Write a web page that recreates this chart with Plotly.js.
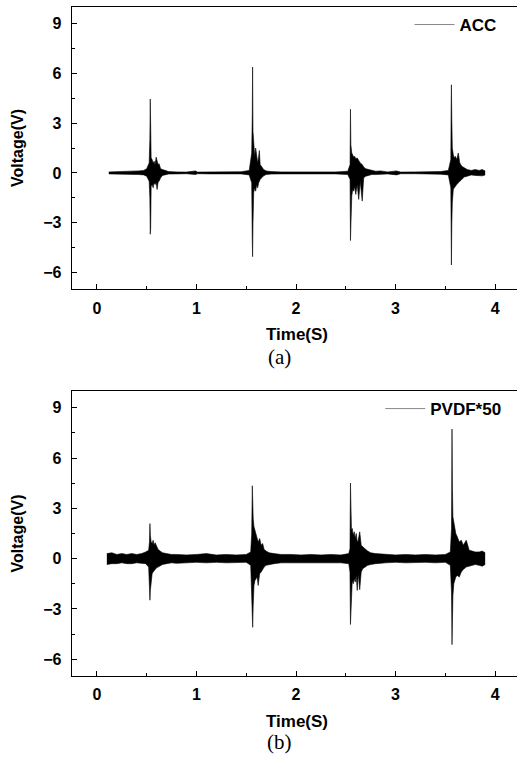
<!DOCTYPE html>
<html>
<head>
<meta charset="utf-8">
<script src="https://cdn.plot.ly/plotly-3.0.1.min.js"></script>
<style>
html,body{margin:0;padding:0;background:#fff;overflow:hidden;}
#chart{width:522px;height:759px;}
</style>
</head>
<body>
<div id="chart"></div>
<script>
// ---- ACC signal envelope (panel a) ----
var accTime = [0.12,0.20,0.28,0.35,0.42,0.47,0.50,0.525,0.532,0.536,0.540,0.545,0.555,0.565,0.575,0.585,0.595,0.605,0.615,0.625,0.64,0.66,0.69,0.72,0.80,0.90,0.99,1.01,1.15,1.30,1.45,1.53,1.555,1.561,1.564,1.568,1.575,1.585,1.595,1.605,1.615,1.625,1.632,1.64,1.655,1.675,1.70,1.75,1.85,1.98,2.10,2.25,2.40,2.52,2.543,2.547,2.551,2.56,2.57,2.58,2.59,2.60,2.615,2.63,2.645,2.665,2.68,2.70,2.73,2.76,2.80,2.85,2.92,3.01,3.05,3.20,3.35,3.45,3.53,3.555,3.558,3.561,3.565,3.57,3.58,3.59,3.60,3.615,3.63,3.645,3.665,3.69,3.72,3.76,3.80,3.84,3.87,3.90];
var accHigh = [0.06,0.07,0.10,0.07,0.12,0.15,0.25,0.6,2.0,4.45,3.2,0.9,0.8,0.6,0.7,0.5,0.95,0.75,0.5,0.55,0.25,0.2,0.12,0.08,0.06,0.05,0.12,0.05,0.06,0.06,0.07,0.15,1.2,3.6,6.38,2.5,1.4,1.0,1.5,0.9,0.6,1.0,1.35,0.5,0.35,0.2,0.12,0.08,0.06,0.05,0.06,0.05,0.06,0.1,0.5,3.84,1.7,1.2,1.05,0.95,1.0,0.85,0.9,0.75,0.6,0.5,0.35,0.25,0.2,0.12,0.1,0.12,0.06,0.12,0.05,0.06,0.05,0.08,0.15,0.8,3.8,5.31,3.2,1.5,1.1,0.9,1.0,0.8,1.2,0.6,0.4,0.3,0.2,0.15,0.2,0.15,0.2,0.12];
var accLow = [-0.06,-0.06,-0.08,-0.07,-0.10,-0.12,-0.2,-0.5,-1.5,-3.7,-3.4,-0.8,-0.7,-0.9,-0.6,-0.7,-0.6,-1.0,-0.55,-0.5,-0.3,-0.15,-0.1,-0.07,-0.06,-0.05,-0.1,-0.05,-0.06,-0.05,-0.06,-0.12,-0.6,-4.2,-5.05,-3.0,-1.2,-0.9,-1.1,-0.7,-0.9,-0.6,-0.5,-0.4,-0.3,-0.18,-0.1,-0.07,-0.06,-0.05,-0.06,-0.05,-0.06,-0.1,-0.4,-4.08,-2.5,-1.4,-1.0,-1.1,-0.8,-1.3,-0.7,-1.6,-0.5,-1.7,-0.3,-0.2,-0.15,-0.1,-0.1,-0.1,-0.06,-0.12,-0.05,-0.05,-0.05,-0.08,-0.12,-0.9,-3.2,-5.55,-3.1,-1.8,-1.0,-0.9,-0.8,-0.7,-0.6,-0.5,-0.35,-0.25,-0.2,-0.12,-0.15,-0.15,-0.18,-0.12];

// ---- PVDF*50 signal envelope (panel b) ----
var pvdfTime = [0.10,0.15,0.20,0.25,0.30,0.35,0.40,0.45,0.49,0.52,0.528,0.533,0.537,0.545,0.555,0.565,0.575,0.585,0.60,0.615,0.635,0.66,0.70,0.75,0.80,0.90,1.00,1.10,1.20,1.30,1.40,1.50,1.545,1.555,1.561,1.565,1.57,1.578,1.588,1.60,1.61,1.62,1.635,1.65,1.665,1.68,1.70,1.73,1.78,1.85,1.95,2.05,2.15,2.25,2.35,2.45,2.53,2.542,2.547,2.551,2.557,2.565,2.575,2.585,2.595,2.605,2.615,2.625,2.64,2.655,2.67,2.69,2.72,2.75,2.80,2.90,3.00,3.10,3.20,3.30,3.40,3.50,3.55,3.562,3.567,3.571,3.576,3.585,3.595,3.605,3.62,3.64,3.66,3.68,3.71,3.74,3.77,3.80,3.84,3.87,3.90];
var pvdfHigh = [0.3,0.35,0.25,0.3,0.25,0.3,0.25,0.3,0.4,0.5,1.0,2.09,1.4,1.0,0.9,1.1,0.8,0.95,0.7,0.55,0.45,0.35,0.3,0.25,0.25,0.22,0.25,0.3,0.22,0.25,0.22,0.25,0.4,1.5,4.35,3.0,2.4,1.9,1.7,1.5,1.3,1.0,1.2,0.8,0.9,0.55,0.45,0.35,0.3,0.25,0.25,0.22,0.25,0.22,0.25,0.22,0.3,0.6,4.51,3.0,1.7,1.8,1.4,1.6,1.2,1.5,1.0,1.1,1.6,0.8,0.7,0.6,0.45,0.35,0.3,0.25,0.22,0.25,0.22,0.25,0.22,0.25,0.4,1.8,7.73,4.2,2.5,2.2,1.8,1.5,1.3,1.0,1.1,0.8,1.1,0.5,0.45,0.4,0.4,0.45,0.35];
var pvdfLow = [-0.35,-0.3,-0.3,-0.25,-0.3,-0.3,-0.25,-0.3,-0.3,-0.5,-1.3,-2.48,-1.9,-1.2,-0.9,-0.8,-0.7,-0.65,-0.55,-0.5,-0.4,-0.35,-0.3,-0.25,-0.28,-0.25,-0.22,-0.25,-0.22,-0.25,-0.25,-0.22,-0.4,-1.8,-3.3,-4.1,-2.8,-1.6,-1.3,-1.2,-1.1,-1.6,-0.9,-0.8,-0.6,-0.5,-0.4,-0.35,-0.3,-0.25,-0.25,-0.22,-0.22,-0.25,-0.22,-0.25,-0.3,-0.8,-3.93,-3.0,-1.8,-1.3,-1.5,-1.2,-1.4,-1.0,-1.9,-0.9,-1.85,-0.8,-0.6,-0.5,-0.4,-0.35,-0.3,-0.25,-0.22,-0.25,-0.22,-0.22,-0.25,-0.22,-0.4,-2.0,-5.13,-3.5,-2.2,-1.5,-1.3,-1.1,-1.0,-1.1,-0.8,-0.65,-0.5,-0.45,-0.4,-0.35,-0.4,-0.45,-0.35];

// ---- ticks / labels ----
var xTicks = [0,1,2,3,4];
var yTicks = [-6,-3,0,3,6,9];
var legendNames = ['ACC','PVDF*50'];
var panelLabels = ['(a)','(b)'];

var F = 'Liberation Sans, Arial, sans-serif';

function envTraces(t, lo, hi, xa, ya){
  return [
    {x:t, y:lo, xaxis:xa, yaxis:ya, type:'scatter', mode:'lines', line:{color:'#000', width:0.6}, showlegend:false, hoverinfo:'skip'},
    {x:t, y:hi, xaxis:xa, yaxis:ya, type:'scatter', mode:'lines', fill:'tonexty', fillcolor:'#000', line:{color:'#000', width:0.6}, showlegend:false, hoverinfo:'skip'}
  ];
}

var data = [].concat(
  envTraces(accTime, accLow, accHigh, 'x', 'y'),
  envTraces(pvdfTime, pvdfLow, pvdfHigh, 'x2', 'y2'),
  [
    {x:[null], y:[null], xaxis:'x', yaxis:'y', type:'scatter', mode:'lines', name:legendNames[0], line:{color:'#888', width:1}, legend:'legend'},
    {x:[null], y:[null], xaxis:'x2', yaxis:'y2', type:'scatter', mode:'lines', name:legendNames[1], line:{color:'#888', width:1}, legend:'legend2'}
  ]
);

function xAxis(anchor){
  return {
    anchor:anchor, domain:[0,1], range:[-0.25,4.27],
    tickvals:xTicks, ticks:'inside', ticklen:5, tickwidth:1, tickcolor:'#000',
    minor:{dtick:0.5, tick0:0, ticks:'inside', ticklen:3, tickcolor:'#000'},
    showline:true, linecolor:'#000', linewidth:1.3, mirror:true,
    showgrid:false, zeroline:false,
    tickfont:{family:F, size:16, color:'#000', weight:'bold'},
    ticklabelstandoff:4,
    title:{text:'Time(S)', font:{family:F, size:17, color:'#000', weight:'bold'}, standoff:12}
  };
}
function yAxis(anchor, dom){
  return {
    anchor:anchor, domain:dom, range:[-7,10],
    tickvals:yTicks, ticks:'inside', ticklen:5, tickwidth:1, tickcolor:'#000',
    minor:{dtick:1.5, tick0:0, ticks:'inside', ticklen:3, tickcolor:'#000'},
    showline:true, linecolor:'#000', linewidth:1.3, mirror:true,
    showgrid:false, zeroline:false,
    tickfont:{family:F, size:16, color:'#000', weight:'bold'},
    ticklabelstandoff:6,
    title:{text:'Voltage(V)', font:{family:F, size:16, color:'#000', weight:'bold'}, standoff:15}
  };
}

var layout = {
  width:522, height:759,
  margin:{l:72, r:0, t:0, b:0},
  paper_bgcolor:'#fff', plot_bgcolor:'#fff',
  showlegend:true,
  xaxis:xAxis('y'),
  yaxis:yAxis('x', [0.6192, 0.9908]),
  xaxis2:xAxis('y2'),
  yaxis2:yAxis('x2', [0.1094, 0.4848]),
  legend:{x:0.75, y:0.9908, xanchor:'left', yanchor:'top', bgcolor:'rgba(0,0,0,0)', itemwidth:40,
          font:{family:F, size:17, color:'#000', weight:'bold'}},
  legend2:{x:0.685, y:0.4848, xanchor:'left', yanchor:'top', bgcolor:'rgba(0,0,0,0)', itemwidth:40,
          font:{family:F, size:17, color:'#000', weight:'bold'}},
  annotations:[
    {text:panelLabels[0], xref:'paper', yref:'paper', x:0.462, y:1-357/759, xanchor:'center', yanchor:'middle', showarrow:false,
     font:{family:'Liberation Serif, DejaVu Serif, serif', size:21, color:'#000'}},
    {text:panelLabels[1], xref:'paper', yref:'paper', x:0.462, y:1-741.7/759, xanchor:'center', yanchor:'middle', showarrow:false,
     font:{family:'Liberation Serif, DejaVu Serif, serif', size:21, color:'#000'}}
  ]
};

Plotly.newPlot('chart', data, layout, {displayModeBar:false, staticPlot:true});
</script>
</body>
</html>
